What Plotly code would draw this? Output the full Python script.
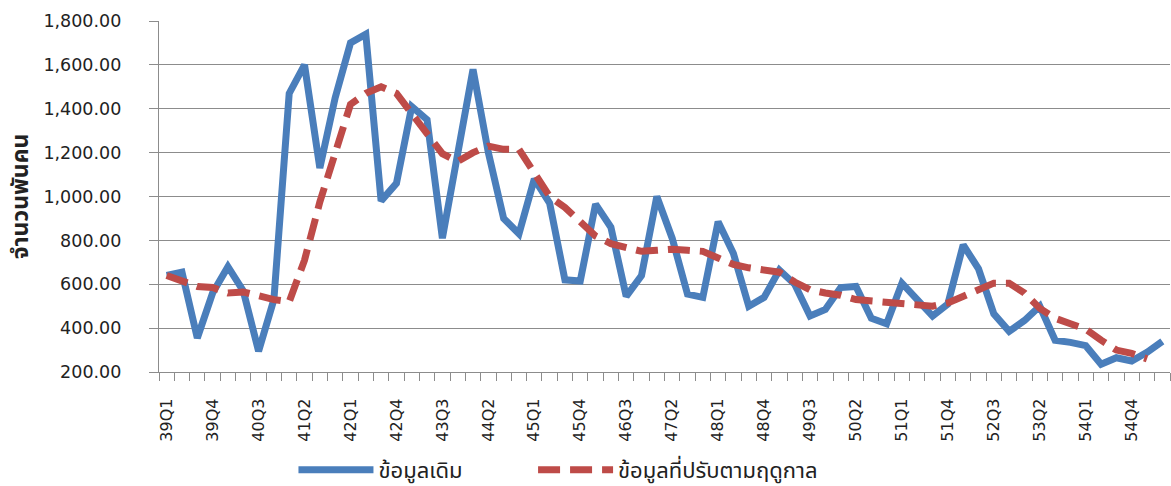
import plotly.graph_objects as go

quarters = ["39Q1","39Q2","39Q3","39Q4","40Q1","40Q2","40Q3","40Q4",
            "41Q1","41Q2","41Q3","41Q4","42Q1","42Q2","42Q3","42Q4",
            "43Q1","43Q2","43Q3","43Q4","44Q1","44Q2","44Q3","44Q4",
            "45Q1","45Q2","45Q3","45Q4","46Q1","46Q2","46Q3","46Q4",
            "47Q1","47Q2","47Q3","47Q4","48Q1","48Q2","48Q3","48Q4",
            "49Q1","49Q2","49Q3","49Q4","50Q1","50Q2","50Q3","50Q4",
            "51Q1","51Q2","51Q3","51Q4","52Q1","52Q2","52Q3","52Q4",
            "53Q1","53Q2","53Q3","53Q4","54Q1","54Q2","54Q3","54Q4",
            "55Q1","55Q2"]

original = [640, 655, 355, 560, 680, 570, 295, 530, 1470, 1600,
            1130, 1450, 1700, 1740, 980, 1060, 1410, 1350, 810, 1190,
            1580, 1200, 900, 830, 1080, 970, 620, 615, 965, 860,
            545, 640, 1000, 810, 555, 540, 885, 740, 500, 540,
            665, 600, 455, 485, 585, 590, 445, 420, 605, 530,
            455, 510, 780, 670, 465, 385, 435, 500, 345, 335,
            320, 235, 265, 250, 290, 340]

adjusted = [640, 615, 590, 585, 560, 565, 545, 530, 520, 710,
            975, 1185, 1420, 1470, 1500, 1470, 1380, 1290, 1195, 1160,
            1200, 1230, 1215, 1215, 1100, 1000, 950, 880, 820, 785,
            765, 750, 755, 760, 755, 750, 720, 690, 675, 665,
            655, 610, 575, 560, 550, 530, 525, 520, 515, 510,
            500, 515, 545, 580, 605, 605, 560, 490, 445, 420,
            395, 345, 300, 285, 260, None]

tick_labels = [q if i % 3 == 0 else "" for i, q in enumerate(quarters)]
y_ticks = [200, 400, 600, 800, 1000, 1200, 1400, 1600, 1800]

FONT = "DejaVu Sans, Noto Sans Thai, Noto Sans, sans-serif"
GRID = "#8c8c8c"

fig = go.Figure()
fig.add_trace(go.Scatter(
    x=quarters, y=original, mode="lines", name="ข้อมูลเดิม",
    line=dict(color="#4A7EBB", width=7), legend="legend",
))
fig.add_trace(go.Scatter(
    x=quarters, y=adjusted, mode="lines", name="ข้อมูลที่ปรับตามฤดูกาล",
    line=dict(color="#BE4B48", width=7, dash="22px,10px"), legend="legend2",
))

legend_common = dict(
    orientation="h", xanchor="left", yref="container", y=0.033, yanchor="middle",
    font=dict(size=22, color="#222222"), itemwidth=75,
    bgcolor="rgba(0,0,0,0)",
)

fig.update_layout(
    width=1171, height=486,
    margin=dict(l=159, r=1, t=21, b=114, autoexpand=False),
    plot_bgcolor="white", paper_bgcolor="white",
    font=dict(family=FONT, size=17, color="#222222"),
    showlegend=True,
    legend=dict(x=0.133, **legend_common),
    legend2=dict(x=0.370, **legend_common),
)
fig.update_xaxes(
    type="category", categoryorder="array", categoryarray=quarters,
    tickmode="array", tickvals=quarters, ticktext=tick_labels,
    tickson="boundaries", ticks="outside", ticklen=8, tickcolor=GRID, tickwidth=1.3,
    tickangle=-90, showgrid=False, showline=True, linecolor=GRID, linewidth=1.3,
    tickfont=dict(size=16), ticklabelstandoff=19, automargin=False,
    range=[-0.5, len(quarters) - 0.5], zeroline=False,
)
fig.update_yaxes(
    range=[200, 1800], tickmode="array", tickvals=y_ticks,
    tickformat=",.2f", ticks="outside", ticklen=9, tickcolor=GRID, tickwidth=1.3,
    showgrid=True, gridcolor=GRID, gridwidth=1.3,
    showline=True, linecolor=GRID, linewidth=1.3, zeroline=False,
    tickfont=dict(size=17.5), ticklabelstandoff=24, automargin=False,
    title=dict(text="<b>จำนวนพันคน</b>", font=dict(size=23), standoff=8),
)

fig.write_html("out.html", config={"displayModeBar": False},
               post_script="document.body.style.margin='0px';")
